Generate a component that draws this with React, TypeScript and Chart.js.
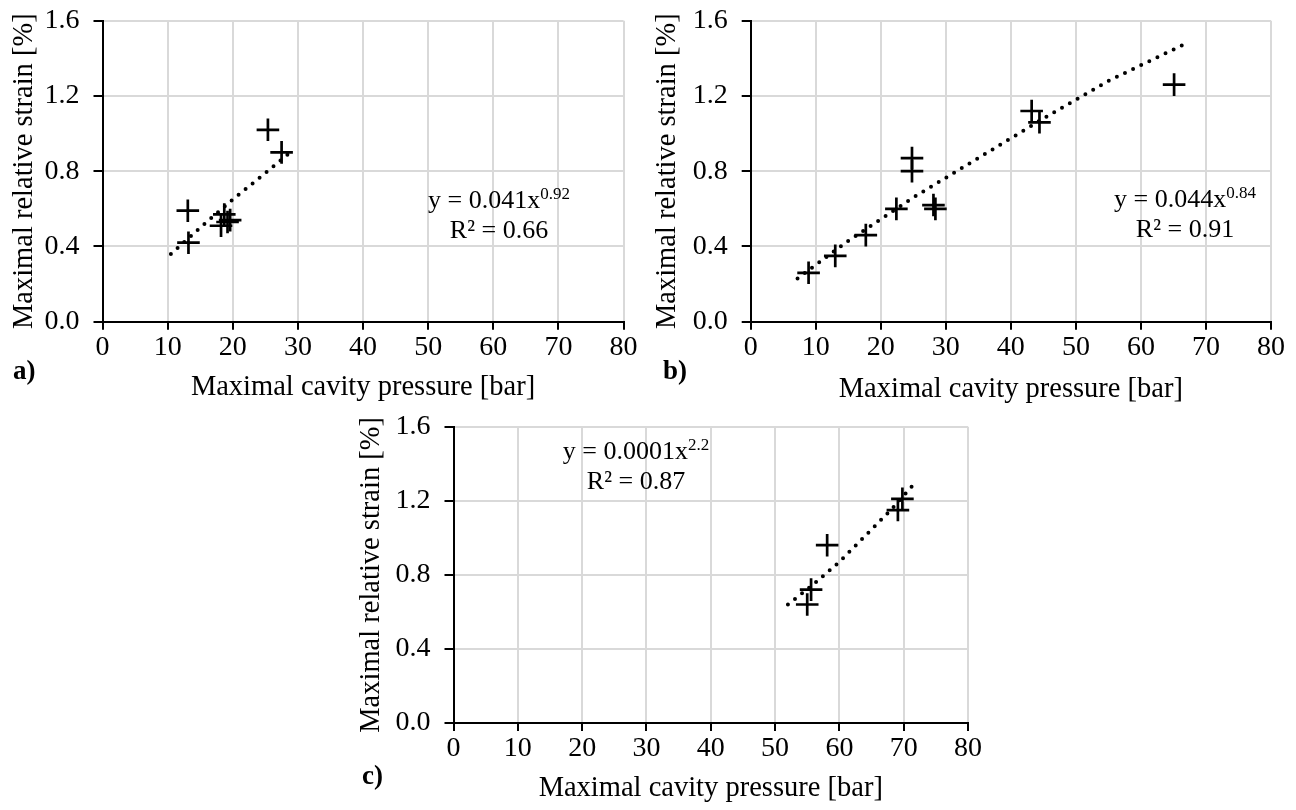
import React, { useEffect, useRef } from "react";
import { Chart, registerables } from "chart.js";

Chart.register(...registerables);

const FONT = "'Liberation Serif', 'Times New Roman', serif";

// ---- Data ----
const xTitle = "Maximal cavity pressure [bar]";
const yTitle = "Maximal relative strain [%]";
const yTickLabels = ["0.0", "0.4", "0.8", "1.2", "1.6"];

// Panel a
const aPressure = [25.4, 27.5, 13.1, 13.2, 18.2, 18.7, 19.2, 19.6];
const aStrain = [1.02, 0.9, 0.59, 0.42, 0.51, 0.57, 0.53, 0.54];
const aTrendX = [10.5, 15, 20, 25, 29.2];
const aTrendY = [0.36, 0.5, 0.65, 0.79, 0.91];

// Panel b
const bPressure = [8.9, 13.0, 17.7, 22.4, 24.8, 24.8, 28.1, 28.4, 43.2, 44.4, 65.1];
const bStrain = [0.26, 0.35, 0.46, 0.6, 0.87, 0.8, 0.62, 0.6, 1.12, 1.06, 1.26];
const bTrendX = [7.2, 15, 25, 35, 45, 55, 66.4];
const bTrendY = [0.23, 0.43, 0.66, 0.87, 1.08, 1.28, 1.47];

// Panel c
const cPressure = [69.8, 69.1, 58.1, 55.6, 55.0];
const cStrain = [1.21, 1.15, 0.96, 0.72, 0.64];
const cTrendX = [52, 56, 60, 64, 68, 71.6];
const cTrendY = [0.64, 0.75, 0.87, 1.01, 1.15, 1.29];

type PanelProps = {
  left: number;
  top: number;
  width: number;
  height: number;
  yAxisWidth: number;
  padTop: number;
  padRight: number;
  xAxisHeight: number;
  yTitlePad: number;
  xTitlePad: number;
  xs: number[];
  ys: number[];
  tx: number[];
  ty: number[];
};

function Panel(p: PanelProps) {
  const ref = useRef<HTMLCanvasElement | null>(null);
  useEffect(() => {
    if (!ref.current) return;
    const pts = p.xs.map((x, i) => ({ x, y: p.ys[i] }));
    const trend = p.tx.map((x, i) => ({ x, y: p.ty[i] }));
    const chart = new Chart(ref.current, {
      type: "scatter",
      data: {
        datasets: [
          {
            type: "line",
            data: trend,
            borderColor: "#000",
            borderWidth: 4,
            borderDash: [0, 9],
            borderCapStyle: "round",
            pointRadius: 0,
            fill: false,
            tension: 0,
            showLine: true,
          } as any,
          {
            type: "scatter",
            data: pts,
            pointStyle: "cross",
            pointRadius: 11.3,
            pointBorderWidth: 2.7,
            borderColor: "#000",
            backgroundColor: "#000",
            showLine: false,
          } as any,
        ],
      },
      options: {
        responsive: false,
        animation: false,
        devicePixelRatio: 1,
        layout: { padding: { top: p.padTop, right: p.padRight, left: 0, bottom: 0 } },
        plugins: { legend: { display: false }, tooltip: { enabled: false } },
        scales: {
          x: {
            type: "linear",
            min: 0,
            max: 80,
            position: "bottom",
            ticks: {
              stepSize: 10,
              font: { family: FONT, size: 28 },
              color: "#000",
              padding: 1,
              maxRotation: 0,
              autoSkip: false,
            },
            grid: { color: "#d9d9d9", lineWidth: 2, tickColor: "#000", tickLength: 8, drawTicks: true },
            border: { color: "#000", width: 2 },
            title: {
              display: true,
              text: xTitle,
              font: { family: FONT, size: 28.5 },
              color: "#000",
              padding: { top: 0, bottom: p.xTitlePad },
            },
            afterFit: (s: any) => {
              s.height = p.xAxisHeight;
              s.paddingLeft = 0;
              s.paddingRight = 0;
            },
          },
          y: {
            type: "linear",
            min: 0,
            max: 1.6,
            ticks: {
              stepSize: 0.4,
              font: { family: FONT, size: 28 },
              color: "#000",
              padding: 14,
              callback: (_v: any, i: number) => yTickLabels[i],
            },
            grid: { color: "#d9d9d9", lineWidth: 2, tickColor: "#000", tickLength: 9, drawTicks: true },
            border: { color: "#000", width: 2 },
            title: {
              display: true,
              text: yTitle,
              font: { family: FONT, size: 28.5 },
              color: "#000",
              padding: { top: p.yTitlePad, bottom: 0 },
            },
            afterFit: (s: any) => {
              s.width = p.yAxisWidth;
              s.paddingTop = 0;
              s.paddingBottom = 0;
            },
          },
        },
      } as any,
    });
    return () => chart.destroy();
  }, []);
  return (
    <canvas
      ref={ref}
      width={p.width}
      height={p.height}
      style={{ position: "absolute", left: p.left, top: p.top, width: p.width, height: p.height }}
    />
  );
}

const eqStyle: React.CSSProperties = {
  position: "absolute",
  fontFamily: FONT,
  fontSize: 26,
  lineHeight: "27px",
  textAlign: "center",
  color: "#000",
  whiteSpace: "nowrap",
  transform: "translateX(-50%)",
};
const supStyle: React.CSSProperties = { fontSize: 17, position: "relative", top: -9 };
const tagStyle: React.CSSProperties = {
  position: "absolute",
  fontFamily: FONT,
  fontSize: 27,
  fontWeight: "bold",
  lineHeight: "27px",
  color: "#000",
};

export default function App() {
  return (
    <div style={{ position: "absolute", left: 0, top: 0, width: 1296, height: 810, background: "#fff", overflow: "hidden" }}>
      <Panel
        left={0}
        top={0}
        width={645}
        height={410}
        yAxisWidth={102.5}
        padTop={20.7}
        padRight={21.5}
        xAxisHeight={88.3}
        yTitlePad={7.4}
        xTitlePad={4.9}
        xs={aPressure}
        ys={aStrain}
        tx={aTrendX}
        ty={aTrendY}
      />
      <Panel
        left={648}
        top={0}
        width={648}
        height={410}
        yAxisWidth={102.7}
        padTop={20.7}
        padRight={25}
        xAxisHeight={88.3}
        yTitlePad={2.9}
        xTitlePad={2.9}
        xs={bPressure}
        ys={bStrain}
        tx={bTrendX}
        ty={bTrendY}
      />
      <Panel
        left={350}
        top={400}
        width={640}
        height={410}
        yAxisWidth={103.5}
        padTop={26.7}
        padRight={22}
        xAxisHeight={87}
        yTitlePad={4.9}
        xTitlePad={4.5}
        xs={cPressure}
        ys={cStrain}
        tx={cTrendX}
        ty={cTrendY}
      />
      <div style={{ ...tagStyle, left: 13, top: 357 }}>a)</div>
      <div style={{ ...tagStyle, left: 663, top: 357 }}>b)</div>
      <div style={{ ...tagStyle, left: 362, top: 762 }}>c)</div>
      <div style={{ ...eqStyle, left: 499, top: 186 }}>
        y = 0.041x<span style={supStyle}>0.92</span>
        <br />R² = 0.66
      </div>
      <div style={{ ...eqStyle, left: 1185, top: 185 }}>
        y = 0.044x<span style={supStyle}>0.84</span>
        <br />R² = 0.91
      </div>
      <div style={{ ...eqStyle, left: 636, top: 437 }}>
        y = 0.0001x<span style={supStyle}>2.2</span>
        <br />R² = 0.87
      </div>
    </div>
  );
}
